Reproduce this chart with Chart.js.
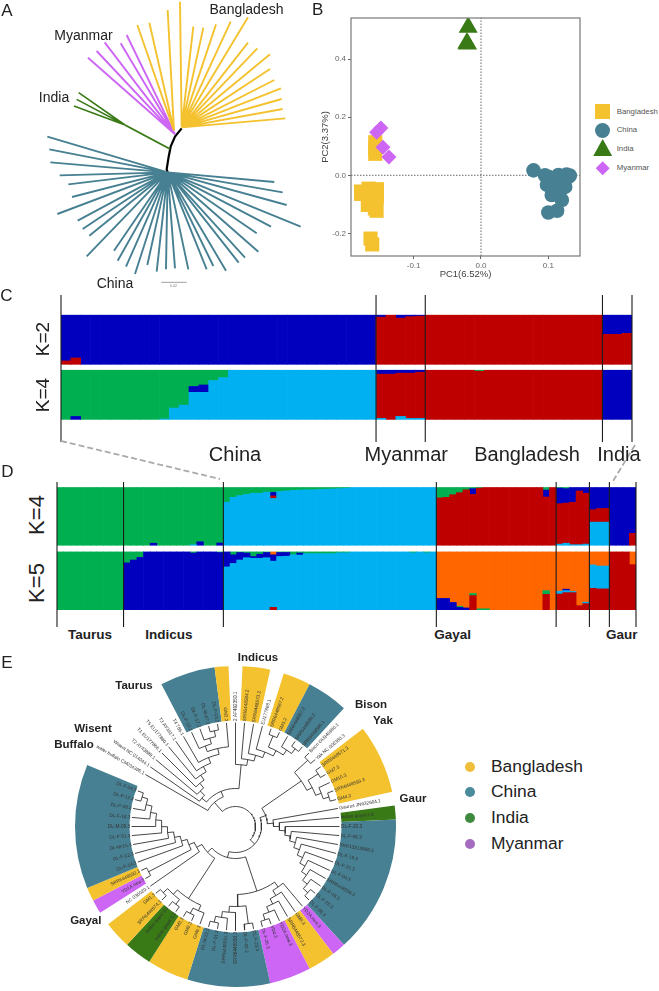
<!DOCTYPE html>
<html>
<head>
<meta charset="utf-8">
<title>Population structure</title>
<script src="https://cdn.jsdelivr.net/npm/chart.js@4/dist/chart.umd.min.js"></script>
<style>
  html, body { margin: 0; background: #fff; }
  #page { position: relative; width: 659px; height: 991px; overflow: hidden; font-family: "Liberation Sans", Arial, sans-serif; color: #222; }
  #page canvas { position: absolute; }
  .txt { position: absolute; white-space: nowrap; transform-origin: center; line-height: 1; }
  .swatch { position: absolute; }
</style>
</head>
<body>
<div id="page"></div>
<script>
const populations = ['Bangladesh', 'China', 'India', 'Myanmar'];
const populationColors = { Bangladesh: '#f4c22f', China: '#478092', India: '#397a17', Myanmar: '#cd66f5', none: 'transparent' };

// A: unrooted tree, tips in layout units of the tree drawing
const bangladeshLeftTips = [[412, 75], [448, 68], [503, 30]];
const bangladeshTips = [[540, 5], [580, 80], [610, 83], [648, 73], [692, 65], [744, 52], [744, 128], [772, 145], [810, 163], [810, 207], [823, 240], [843, 265], [845, 297], [848, 327], [856, 355]];
const myanmarTips = [[264, 173], [290, 153], [314, 127], [362, 130], [380, 105]];
const indiaTips = [[222, 318], [230, 298], [236, 278]];
const chinaTips = [[142, 410], [148, 448], [151, 487], [179, 526], [205, 553], [216, 591], [172, 642], [233, 662], [248, 687], [268, 707], [260, 769], [342, 752], [353, 782], [378, 800], [405, 822], [442, 795], [470, 815], [498, 808], [525, 805], [565, 808], [620, 808], [640, 798], [678, 812], [716, 788], [735, 773], [775, 755], [770, 700], [813, 680], [902, 680], [860, 615], [848, 577], [823, 546]];
const treeStem = [[503, 517], [500, 508], [506, 470], [512, 440], [525, 410], [545, 385]];

// B: PCA scores
const pcaBangladesh = [[-0.157, 0.114], [-0.157, 0.093], [-0.157, 0.074], [-0.178, -0.056], [-0.178, -0.064], [-0.167, -0.074], [-0.167, -0.046], [-0.1545, -0.048], [-0.1545, -0.074], [-0.1575, -0.097], [-0.168, -0.102], [-0.155, -0.122], [-0.1575, -0.114], [-0.165, -0.085], [-0.16, -0.056], [-0.164, -0.218], [-0.1615, -0.238]];
const pcaChina = [[0.078, 0.017], [0.1, -0.005], [0.115, 0.001], [0.127, 0.003], [0.132, -0.001], [0.098, -0.033], [0.107, -0.022], [0.12, -0.028], [0.11, -0.05], [0.105, -0.068], [0.12, -0.085], [0.113, -0.122], [0.1, -0.128], [0.13, -0.005], [0.117, -0.056], [0.095, 0], [0.108, -0.01], [0.125, -0.015], [0.112, -0.04], [0.125, -0.04], [0.1, -0.02]];
const pcaIndia = [[-0.019, 0.51], [-0.021, 0.455], [-0.02, 0.452]];
const pcaMyanmar = [[-0.1486, 0.163], [-0.155, 0.148], [-0.1456, 0.0966], [-0.1367, 0.063]];
const pcaXTicks = [-0.1, 0, 0.1];
const pcaYTicks = [-0.2, 0, 0.2, 0.4];

// C: ancestry proportions per sample
const panelCGroups = [32, 5, 18, 3];
const cK2Red = [
  .07, .13, 0, 0, 0, 0, 0, 0, 0, 0, 0, 0, 0, 0, 0, 0, 0, 0, 0, 0, 0, 0, 0, 0, 0, 0, 0, 0, 0, 0, 0, 0,
  .96, 1, .94, .97, .98,
  1, 1, 1, 1, 1, 1, 1, 1, 1, 1, 1, 1, 1, 1, 1, 1, 1, 1,
  .61, .61, .63];
const cK2Navy = [
  .93, .87, 1, 1, 1, 1, 1, 1, 1, 1, 1, 1, 1, 1, 1, 1, 1, 1, 1, 1, 1, 1, 1, 1, 1, 1, 1, 1, 1, 1, 1, 1,
  .04, 0, .06, .03, .02,
  0, 0, 0, 0, 0, 0, 0, 0, 0, 0, 0, 0, 0, 0, 0, 0, 0, 0,
  .39, .39, .37];
const cK4Sky = [
  0, 0, 0, 0, 0, 0, 0, 0, 0, 0, .01, .23, .29, .55, .55, .79, .85, 1, 1, 1, 1, 1, 1, 1, 1, 1, 1, 1, 1, 1, 1, 1,
  .02, 0, .06, .02, .02,
  0, 0, 0, 0, 0, 0, 0, 0, 0, 0, 0, 0, 0, 0, 0, 0, 0, 0,
  0, 0, 0];
const cK4Red = [
  0, 0, 0, 0, 0, 0, 0, 0, 0, 0, 0, 0, 0, 0, 0, 0, 0, 0, 0, 0, 0, 0, 0, 0, 0, 0, 0, 0, 0, 0, 0, 0,
  .90, .92, .88, .92, .94,
  1, 1, 1, 1, 1, .98, 1, 1, 1, 1, 1, 1, 1, 1, 1, 1, 1, 1,
  0, 0, 0];
const cK4Navy = [
  0, .06, 0, 0, 0, 0, 0, 0, 0, 0, 0, 0, 0, .12, .15, 0, 0, 0, 0, 0, 0, 0, 0, 0, 0, 0, 0, 0, 0, 0, 0, 0,
  .08, .08, .06, .06, .04,
  0, 0, 0, 0, 0, 0, 0, 0, 0, 0, 0, 0, 0, 0, 0, 0, 0, 0,
  1, 1, 1];
const cK4Green = [
  1, .94, 1, 1, 1, 1, 1, 1, 1, 1, .99, .77, .71, .33, .30, .21, .15, 0, 0, 0, 0, 0, 0, 0, 0, 0, 0, 0, 0, 0, 0, 0,
  0, 0, 0, 0, 0,
  0, 0, 0, 0, 0, .02, 0, 0, 0, 0, 0, 0, 0, 0, 0, 0, 0, 0,
  0, 0, 0];

// D: ancestry with the reference breeds and gaur added
const panelDGroups = [10, 15, 32, 18, 5, 3, 4];
const dK5Red = [
  0, 0, 0, 0, 0, 0, 0, 0, 0, 0,
  0, 0, 0, 0, 0, 0, 0, 0, 0, 0, 0, 0, 0, 0, 0,
  0, 0, 0, 0, 0, 0, 0, .04, 0, 0, 0, 0, 0, 0, 0, 0, 0, 0, 0, 0, 0, 0, 0, 0, 0, 0, 0, 0, 0, 0, 0, 0,
  0, 0, 0, 0, 0, .245, 0, 0, 0, 0, 0, 0, 0, 0, 0, 0, .265, 0,
  .27, .295, .295, .07, .105,
  .37, .36, .36,
  1, 1, 1, .78];
const dK5Sky = [
  0, 0, 0, 0, 0, 0, 0, 0, 0, 0,
  0, 0, 0, 0, 0, 0, 0, 0, 0, 0, 0, 0, 0, 0, 0,
  .74, .80, .86, .90, .89, .89, .90, .80, .92, .925, .95, .945, .97, .97, .97, .97, .97, .985, .985, 1, 1, 1, 1, 1, 1, 1, 1, 1, .985, 1, .985, 1,
  0, 0, 0, 0, 0, 0, 0, 0, 0, 0, 0, 0, 0, 0, 0, 0, 0, 0,
  .05, .035, .02, 0, .025,
  .405, .395, .395,
  0, 0, 0, 0];
const dK5Navy = [
  0, 0, 0, 0, 0, 0, 0, 0, 0, 0,
  .81, .86, .905, 1, 1, 1, 1, 1, 1, 1, .98, 1, 1, 1, .99,
  .26, .15, .13, .08, .03, .07, .09, .11, .07, .065, 0, .035, 0, 0, 0, 0, 0, 0, 0, 0, 0, 0, 0, 0, 0, 0, 0, 0, 0, 0, 0, 0,
  .195, .195, .125, .04, .03, 0, 0, 0, 0, 0, 0, 0, 0, 0, 0, 0, 0, 0,
  0, .025, 0, 0, 0,
  0, 0, 0,
  0, 0, 0, 0];
const dK5Green = [
  1, 1, 1, 1, 1, 1, 1, 1, 1, 1,
  .19, .14, .095, 0, 0, 0, 0, 0, 0, 0, .02, 0, 0, 0, .01,
  0, .05, .01, .02, .08, .04, .01, 0, .01, .01, .05, .02, .03, .03, .03, .03, .03, .015, .015, 0, 0, 0, 0, 0, 0, 0, 0, 0, .015, 0, .015, 0,
  0, 0, 0, .02, 0, .035, .015, .015, 0, 0, 0, 0, 0, 0, 0, 0, .065, 0,
  0, 0, 0, 0, 0,
  0, 0, 0,
  0, 0, 0, 0];
const dK5Orange = [
  0, 0, 0, 0, 0, 0, 0, 0, 0, 0,
  0, 0, 0, 0, 0, 0, 0, 0, 0, 0, 0, 0, 0, 0, 0,
  0, 0, 0, 0, 0, 0, 0, .05, 0, 0, 0, 0, 0, 0, 0, 0, 0, 0, 0, 0, 0, 0, 0, 0, 0, 0, 0, 0, 0, 0, 0, 0,
  .805, .805, .875, .94, .97, .72, .985, .985, 1, 1, 1, 1, 1, 1, 1, 1, .67, 1,
  .68, .645, .685, .93, .87,
  .225, .245, .245,
  0, 0, 0, .22];
const dK4Sky = [
  0, 0, 0, 0, 0, 0, 0, 0, 0, 0,
  0, 0, 0, 0, 0, 0, 0, 0, 0, 0, .01, 0, 0, 0, 0,
  .745, .83, .86, .88, .90, .90, .92, .81, .93, .94, .95, .955, .96, .96, .965, .97, .975, .98, .99, 1, 1, 1, 1, 1, 1, 1, 1, 1, 1, 1, 1, 1,
  0, 0, 0, 0, 0, 0, 0, 0, 0, 0, 0, 0, 0, 0, 0, 0, 0, 0,
  .02, .035, .01, .01, .02,
  .40, .40, .40,
  0, 0, 0, 0];
const dK4Red = [
  0, 0, 0, 0, 0, 0, 0, 0, 0, 0,
  0, 0, 0, 0, 0, 0, 0, 0, 0, 0, 0, 0, 0, 0, 0,
  0, 0, 0, 0, 0, 0, 0, .045, 0, 0, 0, 0, 0, 0, 0, 0, 0, 0, 0, 0, 0, 0, 0, 0, 0, 0, 0, 0, 0, 0, 0, 0,
  .82, .83, .875, .91, .96, .88, .99, 1, 1, 1, 1, 1, 1, 1, 1, 1, .835, 1,
  .70, .695, .735, .93, .88,
  .215, .235, .24,
  0, 0, 0, .205];
const dK4Navy = [
  0, 0, 0, 0, 0, 0, 0, 0, 0, 0,
  0, 0, 0, 0, .035, 0, 0, 0, 0, 0, 0, .06, 0, 0, .04,
  0, 0, 0, 0, 0, 0, 0, .06, 0, 0, 0, 0, 0, 0, 0, 0, 0, 0, 0, 0, 0, 0, 0, 0, 0, 0, 0, 0, 0, 0, 0, 0,
  0, 0, 0, 0, 0, .10, 0, 0, 0, 0, 0, 0, 0, 0, 0, 0, .12, 0,
  .27, .25, .255, .06, .10,
  .385, .365, .36,
  1, 1, 1, .795];
const dK4Green = [
  1, 1, 1, 1, 1, 1, 1, 1, 1, 1,
  1, 1, 1, 1, .965, 1, 1, 1, 1, 1, .99, .94, 1, 1, .96,
  .255, .17, .14, .12, .10, .10, .08, .085, .07, .06, .05, .045, .04, .04, .035, .03, .025, .02, .01, 0, 0, 0, 0, 0, 0, 0, 0, 0, 0, 0, 0, 0,
  .18, .17, .125, .09, .04, .02, .01, 0, 0, 0, 0, 0, 0, 0, 0, 0, .045, 0,
  .01, .02, 0, 0, 0,
  0, 0, 0,
  0, 0, 0, 0];

// E: circular mitochondrial tree, tips run clockwise from the opening
const tipNames = ['water buffalo CM034396.1', 'Wisent NC 014044.1', 'T2 AY43888.1', 'T1 EU177866.1', 'T5 EU177880.1', 'T3 AY3917.1', 'T4 786.1',
  'DL-F-10.2', 'DL-F-17.2', 'DL-M-07.2', 'DL-F-03.2', 'GM2.2', '2 AF492350.1', 'SRR6448584.2', 'SRR6448573.2', 'EU177868.1', 'SRR6448567.2', 'GM5.2',
  'SRR6448587.2', 'SRR6448589.2', 'SRR6448585.1', 'Bison GU946980.1', 'Yak NC 006380.3', 'SRR6448571.3', 'GM7.3', 'GM10.3', 'SRR6448593.3', 'GM4.3',
  'Gaurus JN632604.1', 'Indian gayal 2.3', 'DL-F-20.3', 'DL-F-06.3', 'SRR13213988.3', 'DL-F-19.3', 'DL-F-21.3', 'DL-F-04.3', 'SRR6448588.3', 'DL-F-18.3',
  'DL-F-25.3', 'DL-F-05.3', 'YD2A.new.3', 'GM8.3', 'SRR6448572.3', 'YD2A.new.3', 'YD4.3', 'DL-F-26.3', 'DL-F-23.3', 'DL-F-02.3', 'SRR6448590.3',
  'SRR6448591.3', 'DL-F-01.3', 'DL-M-22.3', 'GM6.3', 'GM9.3', 'GM3.3', 'Indian gayal 1.3', 'Indian gayal 3.3', 'SRR6448574.3', 'GM1.3', 'NC 036020.1',
  'YD1A.new.3', 'SRR6448592.3', 'DL-F-14.3', 'DL-F-12.3', 'DL-M-15.3', 'DL-F-51.3', 'DL-M-09.3', 'DL-F-16.3', 'DL-F-08.3', 'DL-F-12.3', 'DL-F-04.3'];
const taurusClade = [1, [2, [3, [4, [5, [6, [[7, [8, [9, 10]]], 11]]]]]]];
const indicusClade = [12, [13, [14, [15, [[16, 17], [18, [19, 20]]]]]]];
const bisonClade = [[21, 22], [[23, 24], [25, [26, 27]]]];
const gaurClade = [28, [29, [30, [31, [32, [33, [34, [35, [36, [37, [38, 39]]]]]]]]]]];
const mixedClade = [[40, [41, [42, [43, [44, 45]]]]], [[46, 47], [48, [49, [50, 51]]]]];
const gayalClade = [[52, [53, 54]], [[55, 56], [57, 58]]];
const chinaLadder = [59, [[60, 61], [62, [63, [64, [65, [66, [67, [68, [69, 70]]]]]]]]]];
const treeRoot = [[0, [taurusClade, indicusClade]], [[bisonClade, gaurClade], [mixedClade, [gayalClade, chinaLadder]]]];
// ring sectors: tips covered and who they belong to, clockwise from the opening
const sectorTips = [8, 4, 1, 1, 2, 1, 2, 3, 2, 5, 1, 1, 10, 1, 2, 3, 6, 3, 2, 2, 1, 1, 1, 9];
const sectorPopulation = ['none', 'China', 'Bangladesh', 'none', 'Bangladesh', 'none', 'Bangladesh', 'China', 'none', 'Bangladesh', 'none', 'India', 'China', 'Myanmar', 'Bangladesh', 'Myanmar', 'China', 'Bangladesh', 'India', 'Bangladesh', 'none', 'Myanmar', 'Bangladesh', 'China'];
const ringLegendColors = ['#efbe3a', '#4a8b9e', '#3f8a3f', '#a46cc0'];

const NAVY = '#0000be', RED = '#be0000', GREEN = '#00b050', SKY = '#00b0f0', ORANGE = '#ff6600';
const page = document.getElementById('page');

Chart.defaults.animation = false;
Chart.defaults.responsive = false;
Chart.defaults.maintainAspectRatio = false;
Chart.defaults.plugins.legend.display = false;
Chart.defaults.plugins.tooltip.enabled = false;
Chart.defaults.font.family = '"Liberation Sans", Arial, sans-serif';

function addCanvas(left, top, width, height) {
  const c = document.createElement('canvas');
  c.width = width;
  c.height = height;
  c.style.cssText = `left:${left}px;top:${top}px;width:${width}px;height:${height}px`;
  page.appendChild(c);
  return c;
}

function addText(text, cx, cy, size, opts = {}) {
  const el = document.createElement('div');
  el.className = 'txt';
  el.textContent = text;
  el.style.left = cx + 'px';
  el.style.top = cy + 'px';
  el.style.fontSize = size + 'px';
  if (opts.bold) el.style.fontWeight = 'bold';
  if (opts.color) el.style.color = opts.color;
  const shift = opts.anchorLeft ? 'translate(0,-50%)' : 'translate(-50%,-50%)';
  el.style.transform = shift + (opts.rot ? ` rotate(${opts.rot}deg)` : '');
  page.appendChild(el);
}

function hiddenAxis(min, max, reverse) {
  return { type: 'linear', display: false, min, max, reverse: !!reverse, offset: false };
}

// pairs of hub -> tip with a gap between them, so one dataset holds a whole fan
function fanPoints(hub, tips) {
  const pts = [];
  tips.forEach(t => {
    pts.push({ x: hub[0], y: hub[1] }, { x: t[0], y: t[1] }, { x: null, y: null });
  });
  return pts;
}

function lineSet(data, color, width, extra) {
  return Object.assign({ data, borderColor: color, borderWidth: width, showLine: true, pointRadius: 0, tension: 0, clip: false, borderCapStyle: 'butt' }, extra || {});
}

// --- A: unrooted tree ---
new Chart(addCanvas(0, 0, 310, 295), {
  type: 'scatter',
  data: {
    datasets: [
      lineSet(fanPoints([522, 392], bangladeshLeftTips), populationColors.Bangladesh, 1.9),
      lineSet(fanPoints([545, 382], bangladeshTips), populationColors.Bangladesh, 1.9),
      lineSet(fanPoints([525, 403], myanmarTips), populationColors.Myanmar, 1.9),
      lineSet(fanPoints([375, 375], indiaTips), populationColors.India, 1.6),
      lineSet([{ x: 510, y: 447 }, { x: 375, y: 375 }], populationColors.India, 1.9),
      lineSet(fanPoints([503, 517], chinaTips), populationColors.China, 1.9),
      lineSet(treeStem.map(p => ({ x: p[0], y: p[1] })), '#000', 2.2),
      lineSet([{ x: 484, y: 847 }, { x: 560, y: 847 }], '#888', 0.8)
    ]
  },
  options: { scales: { x: hiddenAxis(0, 930), y: hiddenAxis(0, 885, true) } }
});

// --- B: PCA ---
const plotFrame = {
  id: 'plotFrame',
  afterDraw(chart) {
    const { ctx, chartArea: a } = chart;
    ctx.save();
    ctx.strokeStyle = '#777';
    ctx.lineWidth = 1.2;
    ctx.strokeRect(a.left, a.top, a.right - a.left, a.bottom - a.top);
    ctx.restore();
  }
};
const pcaXMin = -0.193, pcaXMax = 0.147, pcaYMin = -0.278, pcaYMax = 0.542;
function pcaSet(rows, population, pointStyle, radius, order) {
  return {
    label: population,
    data: rows.map(r => ({ x: r[0], y: r[1] })),
    backgroundColor: populationColors[population],
    borderColor: populationColors[population],
    borderWidth: 0,
    pointStyle,
    pointRadius: radius,
    order
  };
}
function pcaAxis(min, max, tickValues, title, fit) {
  return {
    type: 'linear', min, max,
    afterBuildTicks: scale => { scale.ticks = tickValues.map(value => ({ value })); },
    afterFit: fit,
    grid: { drawOnChartArea: false, color: '#666', tickLength: 3 },
    border: { display: false },
    ticks: { color: '#666', font: { size: 8 }, padding: 2, callback: v => v.toFixed(1) },
    title: { display: true, text: title, color: '#444', font: { size: 9.5 }, padding: { top: 2, bottom: 2 } }
  };
}
new Chart(addCanvas(318, 8, 264, 274), {
  type: 'scatter',
  data: {
    datasets: [
      pcaSet(pcaMyanmar, 'Myanmar', 'rectRot', 7.5, 1),
      pcaSet(pcaIndia, 'India', 'triangle', 11, 2),
      pcaSet(pcaChina, 'China', 'circle', 7.3, 3),
      pcaSet(pcaBangladesh, 'Bangladesh', 'rect', 10, 4),
      lineSet([{ x: 0, y: pcaYMin }, { x: 0, y: pcaYMax }, { x: null, y: null }, { x: pcaXMin, y: 0 }, { x: pcaXMax, y: 0 }], '#444', 0.8, { borderDash: [1.5, 1.5], order: 5 })
    ]
  },
  options: {
    layout: { autoPadding: false, padding: { top: 10, right: 2, bottom: 0, left: 0 } },
    scales: {
      x: pcaAxis(pcaXMin, pcaXMax, pcaXTicks, 'PC1(6.52%)', s => { s.height = 26; }),
      y: pcaAxis(pcaYMin, pcaYMax, pcaYTicks, 'PC2(3.37%)', s => { s.width = 33; })
    }
  },
  plugins: [plotFrame]
});

// --- C and D: stacked ancestry bars, lower row + spacer + upper row in one stack ---
function drawAdmixture(left, top, width, height, groups, lowerRow, gap, upperRow, yMin, yMax) {
  const sampleCount = groups.reduce((a, b) => a + b, 0);
  const labels = lowerRow[0].values.map((_, i) => String(i + 1));
  const spacer = labels.map(() => gap);
  const toSet = s => ({
    type: 'bar',
    data: s.values,
    stack: 'row',
    xAxisID: 'x',
    yAxisID: 'y',
    backgroundColor: c => (c.raw ? s.color : 'transparent'),
    borderWidth: 0,
    grouped: false,
    barPercentage: 1,
    categoryPercentage: 1
  });
  const rows = [...lowerRow, { color: 'transparent', values: spacer }, ...upperRow].map(toSet);

  // vertical group separators across both rows
  const separators = [];
  let edge = 0;
  [0, ...groups].forEach(n => {
    edge += n;
    separators.push({ x: edge, y: yMin }, { x: edge, y: yMax }, { x: null, y: null });
  });
  rows.push(Object.assign(lineSet(separators, '#1c1c1c', 1.1), { type: 'line', xAxisID: 'xGroup', yAxisID: 'y', order: -1 }));

  return new Chart(addCanvas(left, top, width, height), {
    type: 'bar',
    data: { labels, datasets: rows },
    options: {
      layout: { autoPadding: false, padding: { left: 2, right: 2 } },
      scales: {
        x: { type: 'category', display: false },
        xGroup: hiddenAxis(0, sampleCount),
        y: hiddenAxis(yMin, yMax)
      }
    }
  });
}

drawAdmixture(59, 295, 575, 147, panelCGroups,
  [{ color: SKY, values: cK4Sky }, { color: RED, values: cK4Red }, { color: NAVY, values: cK4Navy }, { color: GREEN, values: cK4Green }],
  0.12,
  [{ color: RED, values: cK2Red }, { color: NAVY, values: cK2Navy }],
  -0.46, 2.53);

drawAdmixture(55, 482, 583, 145, panelDGroups,
  [{ color: RED, values: dK5Red }, { color: SKY, values: dK5Sky }, { color: NAVY, values: dK5Navy }, { color: GREEN, values: dK5Green }, { color: ORANGE, values: dK5Orange }],
  0.115,
  [{ color: SKY, values: dK4Sky }, { color: RED, values: dK4Red }, { color: NAVY, values: dK4Navy }, { color: GREEN, values: dK4Green }],
  -0.30, 2.21);

// dashed connectors from panel C down to the zoomed samples in panel D
new Chart(addCanvas(0, 435, 659, 55), {
  type: 'scatter',
  data: {
    datasets: [lineSet([{ x: 61, y: 441 }, { x: 220, y: 479 }, { x: null, y: null }, { x: 635, y: 445 }, { x: 612.5, y: 482 }], '#aaa', 1.8, { borderDash: [6, 3] })]
  },
  options: { scales: { x: hiddenAxis(0, 659), y: hiddenAxis(435, 490, true) } }
});

// --- E: coloured ring + circular cladogram ---
const ringSize = 321, ringHalf = ringSize / 2, ringLeft = 75, ringTop = 666;
new Chart(addCanvas(ringLeft, ringTop, ringSize, ringSize), {
  type: 'doughnut',
  data: {
    labels: sectorPopulation,
    datasets: [{ data: sectorTips, backgroundColor: sectorPopulation.map(p => populationColors[p]), borderWidth: 0 }]
  },
  options: { rotation: 292.5, cutout: 106, layout: { padding: 0 } }
});

const firstTipAngle = 300, tipAngleStep = 5, tipRadius = 104, cladeStep = 6;
const polar = (r, deg) => ({ x: r * Math.sin(deg * Math.PI / 180), y: r * Math.cos(deg * Math.PI / 180) });

function layoutClade(node) {
  if (typeof node === 'number') return { angle: firstTipAngle + node * tipAngleStep, height: 0, kids: [] };
  const kids = node.map(layoutClade);
  return { angle: (kids[0].angle + kids[kids.length - 1].angle) / 2, height: Math.max(...kids.map(k => k.height)) + 1, kids };
}

const branchPoints = [];
function collectBranches(clade) {
  const r = tipRadius - clade.height * cladeStep;
  if (!clade.kids.length) return;
  const a0 = clade.kids[0].angle, a1 = clade.kids[clade.kids.length - 1].angle;
  for (let a = a0; a < a1; a += 4) branchPoints.push(polar(r, a));
  branchPoints.push(polar(r, a1), { x: null, y: null });
  clade.kids.forEach(k => {
    branchPoints.push(polar(r, k.angle), polar(tipRadius - k.height * cladeStep, k.angle), { x: null, y: null });
    collectBranches(k);
  });
}
collectBranches(layoutClade(treeRoot));

const tipLabels = {
  id: 'tipLabels',
  afterDatasetsDraw(chart) {
    const { ctx, scales: { x, y } } = chart;
    ctx.save();
    ctx.font = '4.7px "Liberation Sans", Arial, sans-serif';
    ctx.fillStyle = '#333';
    ctx.textBaseline = 'middle';
    tipNames.forEach((name, i) => {
      const deg = firstTipAngle + i * tipAngleStep;
      const p = polar(tipRadius + 1.5, deg);
      const outward = deg % 360 < 180;
      ctx.save();
      ctx.translate(x.getPixelForValue(p.x), y.getPixelForValue(p.y));
      ctx.rotate((deg + (outward ? -90 : 90)) * Math.PI / 180);
      ctx.textAlign = outward ? 'left' : 'right';
      ctx.fillText(name, 0, 0);
      ctx.restore();
    });
    ctx.restore();
  }
};

new Chart(addCanvas(ringLeft, ringTop, ringSize, ringSize), {
  type: 'scatter',
  data: { datasets: [lineSet(branchPoints, '#333', 0.9)] },
  options: { scales: { x: hiddenAxis(-ringHalf, ringHalf), y: hiddenAxis(-ringHalf, ringHalf) } },
  plugins: [tipLabels]
});

// --- legends ---
const pcaLegendY = [111.7, 130.3, 149, 168.3];
const pcaLegendShapes = [
  'width:15px;height:15px;margin:-7.5px',
  'width:15px;height:15px;margin:-7.5px;border-radius:50%',
  'width:19px;height:17px;margin:-10px -9.5px;clip-path:polygon(50% 0,100% 100%,0 100%)',
  'width:14px;height:14px;margin:-7px;clip-path:polygon(50% 0,100% 50%,50% 100%,0 50%)'
];
populations.forEach((name, i) => {
  const s = document.createElement('div');
  s.className = 'swatch';
  s.style.cssText = `left:602.7px;top:${pcaLegendY[i]}px;background:${populationColors[name]};${pcaLegendShapes[i]}`;
  page.appendChild(s);
  addText(name, 616.7, pcaLegendY[i], 7.8, { anchorLeft: true, color: '#555' });
});

const ringLegendY = [766.7, 792.3, 818, 843.7];
populations.forEach((name, i) => {
  const s = document.createElement('div');
  s.className = 'swatch';
  s.style.cssText = `left:465px;top:${ringLegendY[i] - 5}px;width:10px;height:10px;border-radius:50%;background:${ringLegendColors[i]}`;
  page.appendChild(s);
  addText(name, 491, ringLegendY[i], 17.4, { anchorLeft: true });
});

// --- panel letters and captions ---
[['A', 7, 10], ['B', 317.7, 9], ['C', 6.5, 295], ['D', 7.5, 471], ['E', 7, 662]].forEach(t => addText(t[0], t[1], t[2], 17));

[['Bangladesh', 246.5, 9], ['Myanmar', 83.5, 35], ['India', 54, 97], ['China', 115, 283]].forEach(t => addText(t[0], t[1], t[2], 14));
addText('0.02', 173.5, 286.7, 3.5, { color: '#777' });

addText('K=2', 41.7, 339, 19, { rot: -90 });
addText('K=4', 41.7, 395, 19, { rot: -90 });
[['China', 235, 454], ['Myanmar', 406.3, 454], ['Bangladesh', 527, 454], ['India', 619, 454]].forEach(t => addText(t[0], t[1], t[2], 20));

addText('K=4', 37, 515, 22, { rot: -90 });
addText('K=5', 37, 583, 22, { rot: -90 });
[['Taurus', 90, 635], ['Indicus', 169, 635], ['Gayal', 452.7, 635], ['Gaur', 621.7, 635]].forEach(t => addText(t[0], t[1], t[2], 13.5, { bold: true }));

[['Taurus', 134, 686], ['Wisent', 93, 729], ['Buffalo', 74, 745], ['Indicus', 258, 658], ['Bison', 371, 705], ['Yak', 383, 721], ['Gaur', 413, 799], ['Gayal', 85.8, 921]]
  .forEach(t => addText(t[0], t[1], t[2], 11.5, { bold: true }));
</script>
</body>
</html>
